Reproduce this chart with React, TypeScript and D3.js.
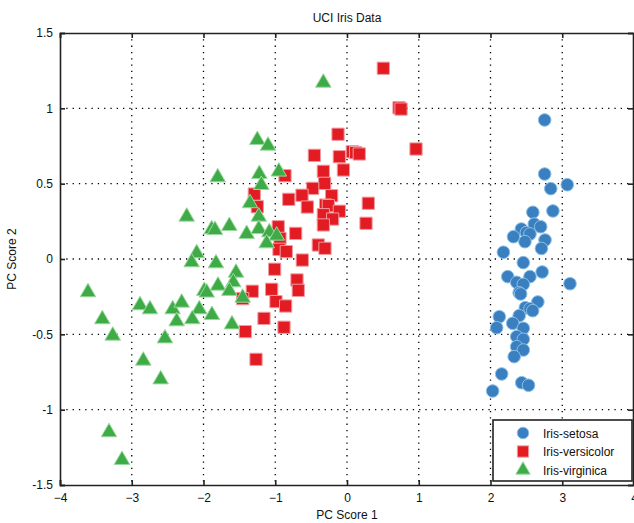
import React, { Component } from 'react';
import * as d3 from 'd3';

// PC scores: [PC1, PC2]
const setosa: [number, number][] = [
  [2.755, 0.923], [2.755, 0.564], [2.84, 0.467], [3.07, 0.493], [2.87, 0.319],
  [2.59, 0.31], [2.61, 0.232], [2.7, 0.214], [2.43, 0.199], [2.5, 0.175],
  [2.55, 0.166], [2.32, 0.148], [2.48, 0.115], [2.76, 0.126], [2.71, 0.07],
  [2.18, 0.045], [2.457, -0.024], [2.72, -0.086], [2.24, -0.117], [2.55, -0.117],
  [2.365, -0.155], [2.457, -0.168], [3.108, -0.164], [2.4, -0.224], [2.42, -0.232],
  [2.66, -0.285], [2.485, -0.323], [2.55, -0.33], [2.588, -0.343], [2.123, -0.383],
  [2.4, -0.376], [2.31, -0.427], [2.086, -0.456], [2.457, -0.46], [2.365, -0.515],
  [2.457, -0.533], [2.365, -0.582], [2.457, -0.604], [2.33, -0.648], [2.156, -0.763],
  [2.435, -0.821], [2.53, -0.838], [2.03, -0.876],
];

const versicolor: [number, number][] = [
  [0.506, 1.266], [0.725, 1.004], [0.753, 0.995], [-0.125, 0.828], [-0.455, 0.688],
  [-0.107, 0.679], [0.074, 0.712], [0.12, 0.706], [0.171, 0.697], [0.962, 0.73],
  [-0.33, 0.582], [-0.05, 0.591], [-0.864, 0.553], [-0.311, 0.502], [-1.292, 0.431],
  [-0.478, 0.469], [-0.627, 0.423], [-0.812, 0.396], [-0.214, 0.42], [-1.25, 0.347],
  [-0.553, 0.345], [-0.298, 0.358], [-0.26, 0.354], [0.297, 0.37], [-0.107, 0.317],
  [-0.33, 0.294], [-0.2, 0.265], [-0.33, 0.226], [0.265, 0.237], [-0.958, 0.214],
  [-0.715, 0.17], [-0.934, 0.137], [-0.4, 0.093], [-0.307, 0.071], [-0.948, 0.064],
  [-0.846, 0.049], [-0.623, -0.007], [-1.008, -0.068], [-0.697, -0.139], [-1.05, -0.201],
  [-0.679, -0.208], [-1.32, -0.214], [-1.454, -0.263], [-0.99, -0.283], [-0.855, -0.312],
  [-1.157, -0.394], [-0.878, -0.453], [-1.417, -0.482], [-1.268, -0.666],
];

const virginica: [number, number][] = [
  [-0.33, 1.17], [-1.25, 0.79], [-1.101, 0.752], [-1.802, 0.542], [-1.222, 0.564],
  [-0.95, 0.58], [-1.194, 0.491], [-1.352, 0.37], [-1.23, 0.281], [-2.234, 0.281],
  [-1.886, 0.197], [-1.84, 0.192], [-1.64, 0.219], [-1.398, 0.166], [-1.23, 0.199],
  [-1.083, 0.177], [-0.98, 0.155], [-1.12, 0.104], [-2.095, 0.038], [-2.165, -0.022],
  [-1.826, -0.029], [-1.547, -0.091], [-1.585, -0.155], [-1.798, -0.177], [-1.989, -0.212],
  [-1.955, -0.223], [-1.64, -0.212], [-1.454, -0.257], [-3.61, -0.221], [-2.885, -0.307],
  [-2.746, -0.334], [-2.43, -0.334], [-2.304, -0.29], [-2.059, -0.334], [-1.882, -0.372],
  [-2.374, -0.414], [-2.156, -0.4], [-1.603, -0.434], [-3.41, -0.4], [-3.265, -0.509],
  [-2.537, -0.527], [-2.839, -0.675], [-2.597, -0.799], [-3.317, -1.15], [-3.136, -1.334],
];

const xTicks = [-4, -3, -2, -1, 0, 1, 2, 3, 4];
const yTicks = [-1.5, -1, -0.5, 0, 0.5, 1, 1.5];
const legendLabels = ['Iris-setosa', 'Iris-versicolor', 'Iris-virginica'];

const FONT = '"Liberation Sans", Arial, sans-serif';

class IrisScatter extends Component {
  chartRef = React.createRef<HTMLDivElement>();

  componentDidMount() {
    this.drawChart();
  }

  drawChart() {
    const W = 634;
    const H = 523;
    const margin = { top: 33, right: 0, bottom: 38, left: 60 };
    const width = W - margin.left - margin.right;
    const height = H - margin.top - margin.bottom;

    d3.select(this.chartRef.current).select('svg').remove();

    const root = d3
      .select(this.chartRef.current)
      .append('svg')
      .attr('width', W)
      .attr('height', H)
      .style('position', 'absolute')
      .style('left', '0px')
      .style('top', '0px')
      .style('background', '#fff')
      .style('font-family', FONT);

    const svg = root.append('g').attr('transform', `translate(${margin.left}, ${margin.top})`);

    const xScale = d3.scaleLinear().domain([-4, 4]).range([0, width]);
    const yScale = d3.scaleLinear().domain([-1.5, 1.5]).range([height, 0]);

    // dotted grid
    svg
      .append('g')
      .selectAll('line')
      .data(xTicks.slice(1, -1))
      .enter()
      .append('line')
      .attr('x1', (d) => xScale(d))
      .attr('x2', (d) => xScale(d))
      .attr('y1', 0)
      .attr('y2', height)
      .attr('stroke', '#000')
      .attr('stroke-width', 1.3)
      .attr('stroke-dasharray', '1.3,5');

    svg
      .append('g')
      .selectAll('line')
      .data(yTicks.slice(1, -1))
      .enter()
      .append('line')
      .attr('x1', 0)
      .attr('x2', width)
      .attr('y1', (d) => yScale(d))
      .attr('y2', (d) => yScale(d))
      .attr('stroke', '#000')
      .attr('stroke-width', 1.3)
      .attr('stroke-dasharray', '1.3,5');

    // axes (ticks inward, mirrored on top/right)
    const xAxis = d3.axisBottom(xScale).tickValues(xTicks).tickSize(-5).tickPadding(8).tickFormat(d3.format('d'));
    const yAxis = d3.axisLeft(yScale).tickValues(yTicks).tickSize(-5).tickPadding(7).tickFormat((d) => String(d));
    const xTop = d3.axisTop(xScale).tickValues(xTicks).tickSize(-5).tickFormat(() => '');
    const yRight = d3.axisRight(yScale).tickValues(yTicks).tickSize(-5).tickFormat(() => '');

    const styleAxis = (g: any) => {
      g.selectAll('path').attr('stroke', '#222').attr('stroke-width', 1.6);
      g.selectAll('line').attr('stroke', '#222').attr('stroke-width', 1.6);
      g.selectAll('text').attr('fill', '#111').style('font-size', '12px').style('font-family', FONT);
    };

    svg.append('g').attr('transform', `translate(0, ${height})`).call(xAxis).call(styleAxis);
    svg.append('g').call(yAxis).call(styleAxis);
    svg.append('g').call(xTop).call(styleAxis);
    svg.append('g').attr('transform', `translate(${width - 1}, 0)`).call(yRight).call(styleAxis);

    // points
    const groups = [
      { data: setosa, shape: d3.symbolCircle, size: 125, fill: '#3a7fc0', stroke: '#8cc0e6' },
      { data: versicolor, shape: d3.symbolSquare, size: 150, fill: '#e31b23', stroke: '#f29aa0' },
      { data: virginica, shape: d3.symbolTriangle, size: 105, fill: '#3fab47', stroke: '#9ad99e' },
    ];

    groups.forEach((grp) => {
      svg
        .append('g')
        .selectAll('path')
        .data(grp.data)
        .enter()
        .append('path')
        .attr('d', d3.symbol().type(grp.shape).size(grp.size)())
        .attr('transform', (d) => `translate(${xScale(d[0])}, ${yScale(d[1])})`)
        .attr('fill', grp.fill)
        .attr('stroke', grp.stroke)
        .attr('stroke-width', 1);
    });

    // legend
    const legend = root.append('g').attr('transform', 'translate(493, 420)');
    legend
      .append('rect')
      .attr('width', 139)
      .attr('height', 61)
      .attr('fill', '#fff')
      .attr('stroke', '#222')
      .attr('stroke-width', 1.6);

    legendLabels.forEach((label, i) => {
      const grp = groups[i];
      const y = 13 + i * 18.5;
      legend
        .append('path')
        .attr('d', d3.symbol().type(grp.shape).size(grp.size * 0.85)())
        .attr('transform', `translate(30, ${y})`)
        .attr('fill', grp.fill)
        .attr('stroke', grp.stroke);
      legend
        .append('text')
        .attr('x', 50)
        .attr('y', y + 4.5)
        .attr('fill', '#111')
        .style('font-size', '12px')
        .text(label);
    });

    // title and axis labels
    root
      .append('text')
      .attr('x', margin.left + xScale(0))
      .attr('y', 22)
      .attr('text-anchor', 'middle')
      .attr('fill', '#111')
      .style('font-size', '12px')
      .text('UCI Iris Data');

    root
      .append('text')
      .attr('x', margin.left + xScale(0))
      .attr('y', 519)
      .attr('text-anchor', 'middle')
      .attr('fill', '#111')
      .style('font-size', '12px')
      .text('PC Score 1');

    root
      .append('text')
      .attr('transform', `translate(16, ${margin.top + yScale(0)}) rotate(-90)`)
      .attr('text-anchor', 'middle')
      .attr('fill', '#111')
      .style('font-size', '12px')
      .text('PC Score 2');
  }

  render() {
    return <div ref={this.chartRef}></div>;
  }
}

export default function App() {
  return <IrisScatter />;
}
